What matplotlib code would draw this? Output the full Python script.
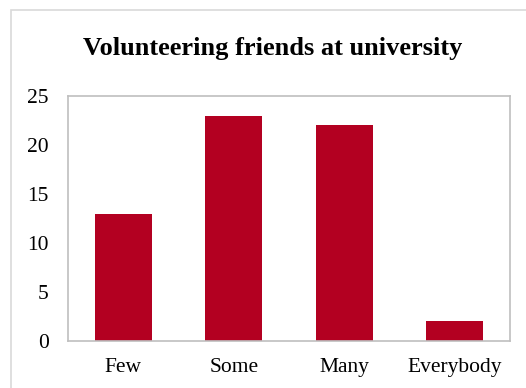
import matplotlib.pyplot as plt
from matplotlib.patches import Rectangle

categories = ['Few', 'Some', 'Many', 'Everybody']
counts = [13, 23, 22, 2]
yticks = [0, 5, 10, 15, 20, 25]

plt.rcParams['font.family'] = ['Liberation Serif', 'DejaVu Serif']

W, H = 526, 388
fig = plt.figure(figsize=(W / 100, H / 100), dpi=100)

# outer chart frame, running off the right and bottom edges
fig.patches.append(Rectangle((11 / W, -0.05), 1.2, 1 - 10 / H + 0.05,
                             transform=fig.transFigure, fill=False,
                             edgecolor='#d9d9d9', linewidth=1.2))

ax = fig.add_axes([68 / W, 1 - 341 / H, (510 - 68) / W, (341 - 96) / H])
ax.bar(range(len(categories)), counts, width=0.52, color='#b30021')
ax.set_xlim(-0.5, len(categories) - 0.5)
ax.set_ylim(0, 25)
ax.set_yticks(yticks)
ax.set_xticks(range(len(categories)))
ax.set_xticklabels(categories)
ax.tick_params(length=0, labelsize=15.5, colors='black')
ax.tick_params(axis='y', pad=14)
ax.tick_params(axis='x', pad=12)
for s in ax.spines.values():
    s.set_color('#bfbfbf')
    s.set_linewidth(1.2)

fig.text(0.518, 1 - 48 / H, 'Volunteering friends at university',
         ha='center', va='center', fontsize=19, fontweight='bold')

fig.savefig('out.png', dpi=100)
